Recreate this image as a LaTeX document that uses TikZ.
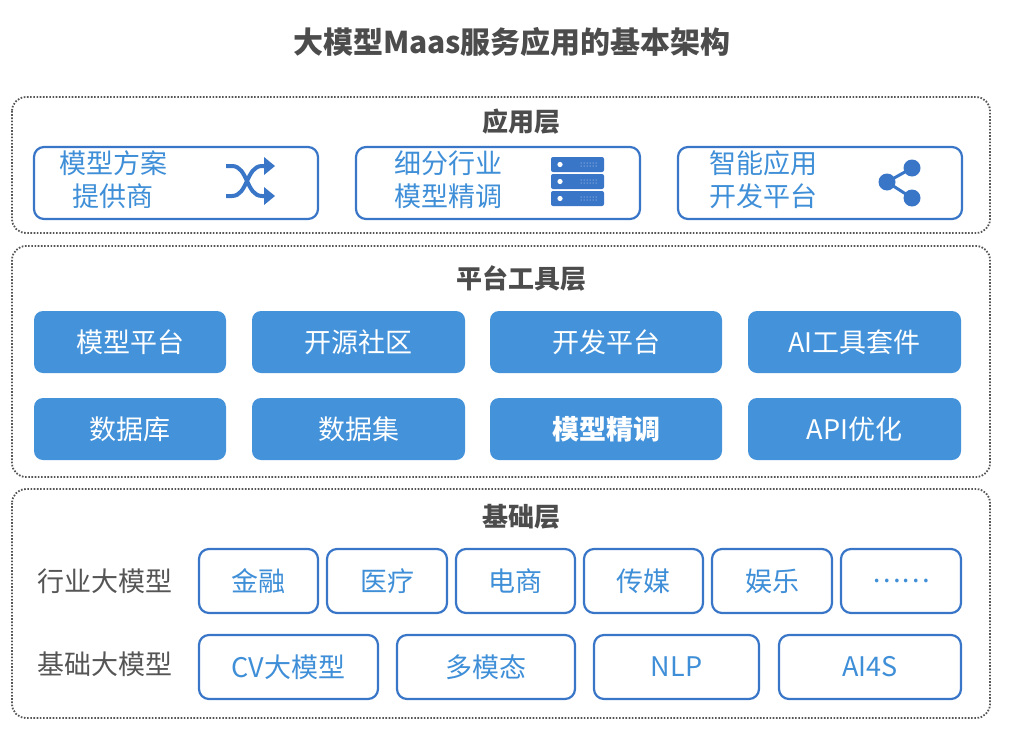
\documentclass[tikz,border=0pt]{standalone}
\usepackage{fontspec}
\setmainfont{Noto Sans CJK SC}
\usetikzlibrary{arrows.meta}
\definecolor{bord}{HTML}{3A76C8}
\definecolor{txtb}{HTML}{3F8FD8}
\definecolor{fillb}{HTML}{4493DA}
\definecolor{gr}{HTML}{555555}
\begin{document}
\begin{tikzpicture}[x=1pt,y=-1pt,
 layer/.style={draw=gr,line width=1.8pt,dash pattern=on 1.6pt off 1.6pt,rounded corners=14pt},
 lab/.style={font=\fontsize{26}{30}\selectfont\bfseries,text=gr!90!black},
 obox/.style={draw=bord,line width=2.2pt,rounded corners=10pt,fill=white},
 fbox/.style={fill=fillb,rounded corners=9pt},
 ot/.style={text=txtb,font=\fontsize{27}{33}\selectfont,align=center},
 ft/.style={text=white,font=\fontsize{27}{30}\selectfont},
 side/.style={text=gr,font=\fontsize{27}{30}\selectfont}]
\useasboundingbox (0,0) rectangle (1014,734);
\node[font=\fontsize{30}{34}\selectfont\bfseries,text=gr!90!black] (title) at (512,42) {大模型Maas服务应用的基本架构};
% layers
\draw[layer] (12,97) rectangle (990,233);
\draw[layer] (12,246) rectangle (990,477);
\draw[layer] (12,489) rectangle (990,718);
\node[lab] (l1) at (521,122) {应用层};
\node[lab] (l2) at (521,278) {平台工具层};
\node[lab] (l3) at (521,517) {基础层};
% app boxes
\draw[obox] (34,147) rectangle (318,219);
\draw[obox] (356,147) rectangle (640,219);
\draw[obox] (678,147) rectangle (962,219);
\node[ot] (a1) at (113,180) {模型方案\\提供商};
\node[ot] (a2) at (448,180) {细分行业\\模型精调};
\node[ot] (a3) at (763,180) {智能应用\\开发平台};
% shuffle icon
\begin{scope}[line width=4pt,draw=bord]
\draw (226,166) -- (232,166) .. controls (248,166) and (246,196) .. (262,196) -- (266,196);
\draw (226,196) -- (232,196) .. controls (248,196) and (246,166) .. (262,166) -- (266,166);
\fill[bord] (264,157) -- (275,166) -- (264,175) -- cycle;
\fill[bord] (264,187) -- (275,196) -- (264,205) -- cycle;
\end{scope}
% server icon
\foreach \yy in {157,174,191}{
 \fill[bord,rounded corners=2pt] (551,\yy) rectangle (604,\yy+15);
 \fill[white] (560,\yy+7.5) circle (2.6pt);
 \foreach \xx in {581,584,587,590,593,596}{\fill[white!85!bord] (\xx,\yy+6) circle (0.5pt); \fill[white!85!bord] (\xx,\yy+9) circle (0.5pt);}
}
% share icon
\draw[bord,line width=3pt] (912,168) -- (887,182) -- (912,198);
\fill[bord] (912,168) circle (8.5pt);
\fill[bord] (887,182) circle (8.5pt);
\fill[bord] (912,198) circle (8.5pt);
% platform boxes
\foreach \x/\X/\y/\Y/\t [count=\i] in {34/226/311/373/模型平台,252/465/311/373/开源社区,490/722/311/373/开发平台,748/961/311/373/AI工具套件,34/226/398/460/数据库,252/465/398/460/数据集,490/722/398/460/\textbf{模型精调},748/961/398/460/API优化}{
 \fill[fbox] (\x,\y) rectangle (\X,\Y);
 \node[ft] (p\i) at ({(\x+\X)/2},{(\y+\Y)/2}) {\t};
}
% base
\node[side] (s1) at (105,581) {行业大模型};
\node[side] (s2) at (105,664) {基础大模型};
\foreach \x/\X/\y/\Y/\t [count=\i] in {199/318/549/613/金融,327/447/549/613/医疗,456/575/549/613/电商,584/703/549/613/传媒,712/832/549/613/娱乐,841/961/549/613/……,199/378/635/699/CV大模型,397/575/635/699/多模态,594/759/635/699/NLP,779/961/635/699/AI4S}{
 \draw[obox] (\x,\y) rectangle (\X,\Y);
 \node[ot] (b\i) at ({(\x+\X)/2},{(\y+\Y)/2}) {\t};
}
\end{tikzpicture}
\end{document}
